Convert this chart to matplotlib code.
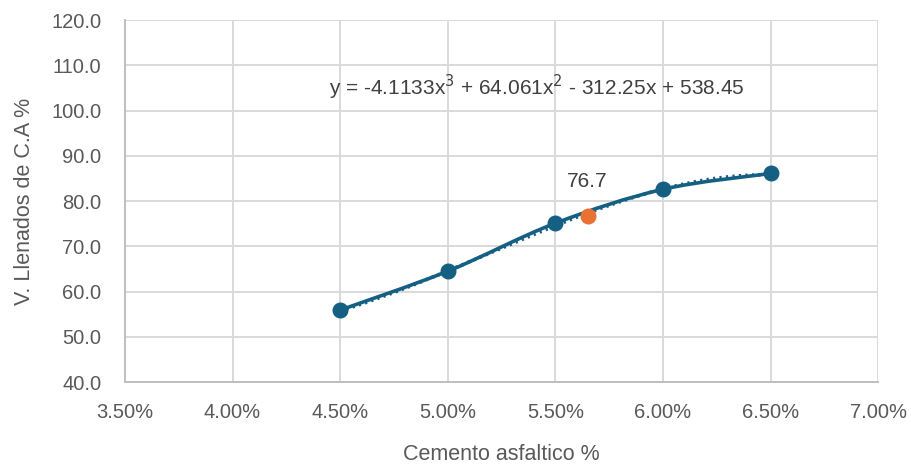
import numpy as np
import matplotlib
matplotlib.use("Agg")
import matplotlib.pyplot as plt
from matplotlib.path import Path
from matplotlib.patches import PathPatch
from matplotlib.ticker import FuncFormatter, MultipleLocator

# data
asphalt_pct = [4.5, 5.0, 5.5, 6.0, 6.5]
vfa = [55.9, 64.5, 75.1, 82.6, 86.1]
optimum_pct = 5.65
optimum_vfa = 76.7
trend_coef = [-4.1133, 64.061, -312.25, 538.45]  # x^3, x^2, x, 1

blue = "#156082"
orange = "#E97132"
text_col = "#595959"

plt.rcParams["font.family"] = ["Liberation Sans", "DejaVu Sans"]

fig = plt.figure(figsize=(9.12, 4.67), dpi=100)
ax = fig.add_axes([0.137, 0.182, 0.826, 0.775])


def smooth_path(xs, ys):
    # catmull-rom style bezier, like excel's smoothed line
    pts = np.column_stack([xs, ys])
    n = len(pts)
    verts = [pts[0]]
    codes = [Path.MOVETO]
    for i in range(n - 1):
        p0 = pts[i - 1] if i > 0 else pts[i]
        p1 = pts[i]
        p2 = pts[i + 1]
        p3 = pts[i + 2] if i + 2 < n else pts[i + 1]
        c1 = p1 + (p2 - p0) / 6.0
        c2 = p2 - (p3 - p1) / 6.0
        verts += [c1, c2, p2]
        codes += [Path.CURVE4] * 3
    return Path(verts, codes)


# polynomial trendline (dotted)
xt = np.linspace(asphalt_pct[0], asphalt_pct[-1], 200)
ax.plot(xt, np.polyval(trend_coef, xt), color=blue, lw=2.6, ls=(0, (0.6, 1.2)),
        zorder=3)

# smoothed series line
ax.add_patch(PathPatch(smooth_path(asphalt_pct, vfa), facecolor="none",
                       edgecolor=blue, lw=2.6, zorder=4))
ax.plot(asphalt_pct, vfa, ls="none", marker="o", ms=10.5, color=blue, zorder=5)

# optimum point
ax.plot([optimum_pct], [optimum_vfa], ls="none", marker="o", ms=10.5,
        color=orange, zorder=6)
ax.annotate(f"{optimum_vfa:.1f}", (optimum_pct, optimum_vfa), xytext=(-15, 25),
            textcoords="offset points", ha="left", va="center", fontsize=15,
            color="#404040")

eq = "y = -4.1133x$^3$ + 64.061x$^2$ - 312.25x + 538.45"
ax.text(5.415, 105.2, eq, ha="center", va="center", fontsize=15,
        color="#404040")

ax.set_xlim(3.5, 7.0)
ax.set_ylim(40, 120)
ax.xaxis.set_major_locator(MultipleLocator(0.5))
ax.yaxis.set_major_locator(MultipleLocator(10))
ax.xaxis.set_major_formatter(FuncFormatter(lambda v, p: f"{v:.2f}%"))
ax.yaxis.set_major_formatter(FuncFormatter(lambda v, p: f"{v:.1f}"))
ax.tick_params(length=0, labelsize=14.5, labelcolor=text_col)
ax.tick_params(axis="y", pad=17)
ax.tick_params(axis="x", pad=15)
ax.grid(True, color="#d9d9d9", lw=1.4, zorder=0)
ax.set_axisbelow(True)
for s in ["top", "right"]:
    ax.spines[s].set_visible(False)
for s in ["left", "bottom"]:
    ax.spines[s].set_color("#bfbfbf")
    ax.spines[s].set_linewidth(1.4)

ax.set_xlabel("Cemento asfaltico %", fontsize=15.5, color=text_col, labelpad=16)
ax.set_ylabel("V. Llenados de C.A %", fontsize=15.5, color=text_col, labelpad=12)

fig.savefig("out.png", dpi=100)
